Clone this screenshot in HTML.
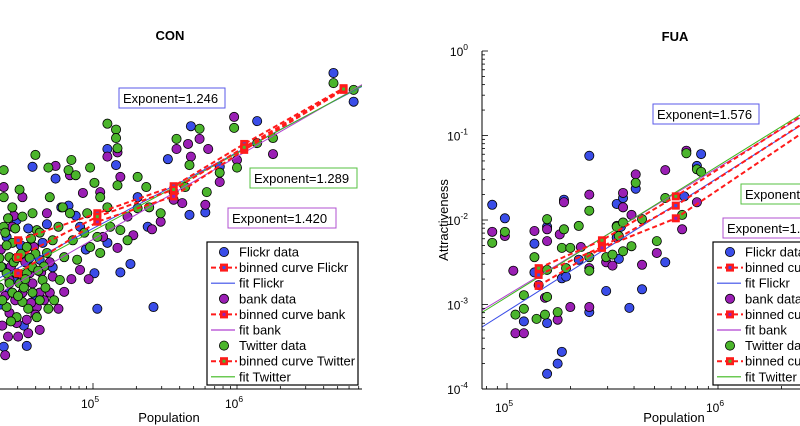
<!DOCTYPE html>
<html><head><meta charset="utf-8">
<style>
html,body{margin:0;padding:0;background:#fff;width:800px;height:426px;overflow:hidden}
svg{display:block;font-family:"Liberation Sans",Arial,sans-serif}
</style></head>
<body>
<svg id="chart" width="800" height="426" viewBox="0 0 800 426" xmlns="http://www.w3.org/2000/svg">
<defs>
<clipPath id="clipL"><rect x="0" y="40" width="362" height="349"/></clipPath>
<clipPath id="clipR"><rect x="482" y="51" width="318" height="338"/></clipPath>
</defs>
<text x="170" y="40" font-size="13" font-weight="bold" text-anchor="middle">CON</text>
<text x="675" y="41" font-size="13" font-weight="bold" text-anchor="middle">FUA</text>
<text x="169" y="422" font-size="13" text-anchor="middle">Population</text>
<text x="674" y="422" font-size="13" text-anchor="middle">Population</text>
<text transform="translate(448,220) rotate(-90)" font-size="13" text-anchor="middle">Attractiveness</text>
<g id="gL" clip-path="url(#clipL)"></g>
<g id="gR" clip-path="url(#clipR)"></g>
<g id="axes"></g>
<g id="ann"></g>
</svg>
<script>
// values are log10(population), log10(attractiveness)
const conFlickr=[[6.67,-0.26],[6.81,-0.60],[6.14,-0.83],[5.68,-0.89],[5.10,-1.16],[5.52,-1.28],[5.16,-1.35],[5.88,-1.37],[5.67,-1.94],[5.78,-1.91],[5.26,-2.52],[5.19,-2.62],[5.03,-3.05],[5.42,-3.03],[4.54,-3.49],[4.74,-1.51],[4.58,-1.37],[4.83,-1.83],[5.31,-1.73],[5.10,-2.27],[5.01,-2.63],[4.78,-1.85],[4.47,-2.00],[4.38,-3.50],[5.38,-2.08],[4.91,-2.08],[4.65,-2.27],[4.72,-2.56],[4.42,-2.86],[4.63,-2.47],[4.37,-2.56],[4.50,-2.30],[4.45,-2.70],[4.60,-2.95],[4.88,-1.95],[4.40,-2.20],[4.55,-2.10],[4.36,-3.00],[4.52,-3.25],[4.68,-2.05],[4.95,-2.35]];
const conBank=[[5.98,-0.78],[5.74,-1.04],[5.66,-1.10],[5.80,-1.16],[6.25,-1.22],[6.00,-1.29],[5.58,-1.16],[5.68,-1.25],[5.88,-1.55],[5.78,-1.82],[5.62,-1.80],[5.56,-1.76],[5.47,-2.02],[5.41,-2.11],[5.10,-1.25],[5.17,-1.20],[5.19,-1.49],[4.84,-1.47],[4.74,-1.36],[4.93,-1.68],[5.05,-1.67],[5.17,-2.33],[5.07,-2.20],[4.97,-2.70],[4.72,-2.67],[4.85,-2.70],[4.76,-3.05],[4.63,-3.30],[4.55,-3.34],[4.41,-3.38],[4.39,-3.60],[4.48,-3.38],[4.61,-3.03],[4.51,-2.86],[4.63,-2.86],[4.42,-3.10],[4.59,-2.32],[4.68,-1.92],[4.44,-2.08],[4.51,-1.73],[5.24,-1.96],[5.28,-2.18],[4.91,-2.59],[4.38,-1.61],[4.49,-2.44],[4.56,-2.63],[4.70,-2.86],[4.54,-3.18],[4.42,-2.71],[4.46,-2.95],[4.58,-2.75],[4.36,-2.35],[4.43,-2.55],[4.50,-2.65],[4.57,-2.98],[4.64,-2.62],[4.39,-2.90],[4.47,-3.22],[4.66,-2.95],[4.53,-2.50],[4.60,-3.12],[4.37,-3.25],[4.70,-2.50],[4.80,-2.85],[4.45,-1.95]];
const conTwitter=[[6.67,-0.38],[6.81,-0.46],[5.98,-0.91],[5.74,-0.92],[6.25,-1.03],[6.00,-1.38],[6.14,-1.09],[5.88,-1.44],[5.79,-1.67],[5.58,-1.04],[5.67,-1.35],[5.64,-1.61],[5.56,-1.67],[5.10,-0.86],[5.16,-0.93],[5.16,-1.03],[5.17,-1.15],[5.17,-1.59],[5.31,-1.49],[5.37,-1.61],[5.31,-1.86],[5.47,-1.92],[5.39,-1.85],[4.98,-1.38],[5.01,-1.56],[5.05,-1.73],[5.10,-1.85],[4.85,-1.29],[4.83,-1.41],[4.69,-1.38],[4.60,-1.23],[4.88,-1.47],[4.96,-1.92],[5.12,-2.08],[5.24,-2.24],[5.19,-2.12],[5.03,-2.20],[4.84,-1.92],[4.76,-2.08],[4.86,-2.24],[4.80,-2.44],[4.89,-2.47],[4.77,-2.71],[4.65,-2.71],[4.58,-2.86],[4.51,-2.97],[4.61,-3.15],[4.47,-3.15],[4.40,-3.03],[4.49,-2.75],[4.42,-2.44],[4.54,-2.32],[4.61,-2.12],[4.51,-1.96],[4.44,-1.85],[4.49,-1.64],[4.38,-1.73],[4.38,-1.41],[4.70,-1.73],[4.58,-1.92],[4.63,-2.15],[4.68,-2.39],[4.44,-2.27],[4.40,-2.63],[4.47,-2.63],[4.54,-2.63],[4.35,-2.80],[4.44,-2.86],[4.58,-2.56],[4.38,-2.08],[4.72,-2.24],[4.94,-2.15],[4.98,-2.32],[5.05,-2.39],[4.79,-1.85],[4.45,-2.50],[4.52,-2.80],[4.60,-2.40],[4.40,-2.30],[4.66,-2.55],[4.36,-2.55],[4.42,-2.75],[4.48,-2.90],[4.55,-3.05],[4.37,-2.95],[4.50,-2.40],[4.57,-2.22],[4.63,-2.95],[4.43,-3.20],[4.67,-2.80],[4.53,-2.70],[4.47,-2.45],[4.39,-2.15],[4.56,-2.45],[4.73,-2.95],[4.41,-1.98],[4.62,-2.60],[4.35,-2.45],[4.46,-2.10],[4.69,-3.05]];
const conBinX=[4.48,5.03,5.56,6.05,6.74];
const conBinFlickr=[-2.24,-1.92,-1.60,-1.10,-0.44];
const conBinBank=[-2.63,-2.02,-1.72,-1.17,-0.46];
const conBinTwitter=[-2.44,-1.96,-1.64,-1.14,-0.45];
const conFitFlickr=[-1.20,0.90];
const conFitBank=[-1.25,0.98];
const conFitTwitter=[-1.21,0.92];
const fuaFlickr=[[4.93,-1.82],[4.99,-1.98],[5.13,-2.28],[5.13,-2.62],[5.08,-3.20],[5.19,-3.22],[5.19,-3.82],[5.24,-3.70],[5.26,-3.56],[5.19,-2.08],[5.27,-1.76],[5.26,-2.69],[5.28,-2.67],[5.34,-2.47],[5.39,-1.24],[5.39,-3.09],[5.47,-2.84],[5.52,-1.81],[5.55,-1.74],[5.52,-2.21],[5.53,-2.46],[5.58,-3.04],[5.61,-1.63],[5.64,-2.82],[5.75,-2.50],[5.84,-1.72],[5.90,-1.36],[5.92,-1.22],[5.54,-2.08]];
const fuaBank=[[4.93,-2.14],[4.99,-2.19],[5.03,-2.60],[5.04,-3.34],[5.08,-3.34],[5.13,-2.13],[5.19,-2.11],[5.19,-2.25],[5.18,-2.92],[5.15,-2.77],[5.25,-2.17],[5.27,-1.79],[5.24,-3.18],[5.30,-3.03],[5.35,-2.32],[5.39,-1.70],[5.39,-2.57],[5.39,-3.03],[5.47,-2.50],[5.50,-2.54],[5.52,-2.07],[5.55,-1.68],[5.55,-1.85],[5.59,-1.94],[5.61,-1.46],[5.64,-2.53],[5.71,-2.39],[5.75,-1.41],[5.83,-2.11],[5.85,-1.18],[5.90,-1.79]];
const fuaTwitter=[[4.93,-2.27],[4.99,-2.14],[5.04,-3.12],[5.08,-3.05],[5.08,-2.89],[5.13,-2.44],[5.14,-3.17],[5.18,-3.12],[5.19,-1.99],[5.19,-2.59],[5.19,-2.91],[5.24,-3.09],[5.26,-2.33],[5.27,-2.11],[5.28,-2.57],[5.30,-2.33],[5.34,-2.07],[5.39,-2.44],[5.39,-2.60],[5.39,-1.89],[5.47,-2.44],[5.50,-2.41],[5.52,-2.08],[5.53,-2.19],[5.55,-2.03],[5.55,-2.37],[5.59,-2.31],[5.61,-1.56],[5.64,-1.99],[5.71,-2.25],[5.75,-1.74],[5.83,-1.94],[5.85,-1.21],[5.90,-1.40],[5.92,-1.43]];
const fuaBinX=[5.15,5.45,5.80,6.50];
const fuaBinFlickr=[-2.65,-2.32,-1.83,-0.70];
const fuaBinBank=[-2.78,-2.33,-1.98,-0.80];
const fuaBinTwitter=[-2.57,-2.24,-1.72,-0.60];
const fuaFitFlickr=[-3.08,1.58];
const fuaFitBank=[-2.89,1.51];
const fuaFitTwitter=[-2.91,1.55];
const conXTicks=[5,6];
const fuaXTicks=[5,6];
const fuaYTicks=[0,-1,-2,-3,-4];
const legendLabels=["Flickr data","binned curve Flickr","fit Flickr","bank data","binned curve bank","fit bank","Twitter data","binned curve Twitter","fit Twitter"];
const exponentsCON=["Exponent=1.246","Exponent=1.289","Exponent=1.420"];
const exponentsFUA=["Exponent=1.576","Exponent=1.","Exponent=1."];

const NS="http://www.w3.org/2000/svg";
const C={blue:"#3a4de8",purple:"#9a1fb4",green:"#4bb52c",red:"#ff1a1a"};
const xL=v=>93+(v-5)*144;
const xR=v=>507+(v-5)*211;
const yS=v=>389-(v+4)*84.5;
function mk(tag,attrs,parent){const e=document.createElementNS(NS,tag);for(const k in attrs)e.setAttribute(k,attrs[k]);parent.appendChild(e);return e;}
const gL=document.getElementById('gL'),gR=document.getElementById('gR'),ax=document.getElementById('axes'),ann=document.getElementById('ann');

function dots(g,data,xf,col,name){
  data.forEach(p=>{
    const c=mk('circle',{cx:xf(p[0]),cy:yS(p[1]),r:4.6,fill:col,stroke:'#000','stroke-width':0.8},g);
    
    
  });
}
function fit(g,f,xf,x0,x1,col,name){
  const c=(xf===xL?6:5);
  const l=mk('line',{x1:xf(x0),y1:yS(f[0]+f[1]*(x0-c)),x2:xf(x1),y2:yS(f[0]+f[1]*(x1-c)),stroke:col,'stroke-width':1},g);
  
  
}
function binned(g,xs,ys,xf,col,name){
  const pl=mk('polyline',{points:xs.map((x,i)=>xf(x)+','+yS(ys[i])).join(' '),fill:'none',stroke:C.red,'stroke-width':2,'stroke-dasharray':'5,3'},g);
  
  
  xs.forEach((x,i)=>{
    const s=mk('rect',{x:xf(x)-4,y:yS(ys[i])-4,width:8,height:8,fill:C.red},g);
    
    
    mk('rect',{x:xf(x)-1.5,y:yS(ys[i])-1.5,width:3,height:3,fill:col},g);
  });
}
dots(gL,conFlickr,xL,C.blue,'con-flickr-point');
dots(gL,conBank,xL,C.purple,'con-bank-point');
dots(gL,conTwitter,xL,C.green,'con-twitter-point');
fit(gL,conFitFlickr,xL,4.3,6.88,C.blue,'con-fit-flickr');
fit(gL,conFitBank,xL,4.3,6.88,'#b040d0','con-fit-bank');
fit(gL,conFitTwitter,xL,4.3,6.88,'#3cb81c','con-fit-twitter');
binned(gL,conBinX,conBinFlickr,xL,C.blue,'con-binned-flickr');
binned(gL,conBinX,conBinBank,xL,C.purple,'con-binned-bank');
binned(gL,conBinX,conBinTwitter,xL,C.green,'con-binned-twitter');
dots(gR,fuaFlickr,xR,C.blue,'fua-flickr-point');
dots(gR,fuaBank,xR,C.purple,'fua-bank-point');
dots(gR,fuaTwitter,xR,C.green,'fua-twitter-point');
fit(gR,fuaFitFlickr,xR,4.85,6.6,C.blue,'fua-fit-flickr');
fit(gR,fuaFitBank,xR,4.85,6.6,'#b040d0','fua-fit-bank');
fit(gR,fuaFitTwitter,xR,4.85,6.6,'#3cb81c','fua-fit-twitter');
binned(gR,fuaBinX,fuaBinFlickr,xR,C.blue,'fua-binned-flickr');
binned(gR,fuaBinX,fuaBinBank,xR,C.purple,'fua-binned-bank');
binned(gR,fuaBinX,fuaBinTwitter,xR,C.green,'fua-binned-twitter');

function sup(x,y,base,exp,name,anchor){
  const t=mk('text',{x:x,y:y,'font-size':12,'text-anchor':anchor||'middle'},ax);
  
  
  t.textContent=base;
  const s=mk('tspan',{dy:-6,'font-size':8.5},t);s.textContent=exp;
}
let a=mk('line',{x1:0,y1:389,x2:362,y2:389,stroke:'#000','stroke-width':1},ax);

for(let d=4;d<=6;d++)for(let m=1;m<=9;m++){const v=d+Math.log10(m);const px=xL(v);if(px<0||px>362)continue;mk('line',{x1:px,y1:389,x2:px,y2:m==1?383:386,stroke:'#000','stroke-width':0.8},ax);}
conXTicks.forEach(v=>sup(xL(v)-3,408,'10',String(v),'con-x-tick-label'));
a=mk('line',{x1:482,y1:389,x2:800,y2:389,stroke:'#000','stroke-width':1},ax);

a=mk('line',{x1:482,y1:51,x2:482,y2:389,stroke:'#000','stroke-width':1},ax);

for(let d=4;d<=6;d++)for(let m=1;m<=9;m++){const v=d+Math.log10(m);const px=xR(v);if(px<482||px>800)continue;mk('line',{x1:px,y1:389,x2:px,y2:m==1?383:386,stroke:'#000','stroke-width':0.8},ax);}
for(let d=-4;d<0;d++)for(let m=1;m<=9;m++){const py=yS(d+Math.log10(m));mk('line',{x1:482,y1:py,x2:m==1?488:485,y2:py,stroke:'#000','stroke-width':0.8},ax);}
mk('line',{x1:482,y1:51,x2:488,y2:51,stroke:'#000','stroke-width':0.8},ax);
fuaXTicks.forEach(v=>sup(xR(v)-3,412,'10',String(v),'fua-x-tick-label'));
fuaYTicks.forEach(v=>sup(468,yS(v)+5,'10',String(v),'fua-y-tick-label','end'));

function legend(x,y,w,h,name){
  const g=mk('g',{},ann);
  
  
  mk('rect',{x:x,y:y,width:w,height:h,fill:'#fff',stroke:'#000','stroke-width':1.2},g);
  const cols=[C.blue,C.blue,C.blue,C.purple,C.purple,'#b040d0',C.green,C.green,'#3cb81c'];
  legendLabels.forEach((lab,i)=>{
    const yy=y+10+i*15.6;const t=i%3;
    const e=mk('g',{},g);
    
    
    if(t==0)mk('circle',{cx:x+17,cy:yy,r:4.6,fill:cols[i],stroke:'#000','stroke-width':0.8},e);
    if(t==1){mk('line',{x1:x+4,y1:yy,x2:x+30,y2:yy,stroke:C.red,'stroke-width':2,'stroke-dasharray':'5,3'},e);mk('rect',{x:x+13,y:yy-4,width:8,height:8,fill:C.red},e);mk('rect',{x:x+15.5,y:yy-1.5,width:3,height:3,fill:cols[i]},e);}
    if(t==2)mk('line',{x1:x+4,y1:yy,x2:x+28,y2:yy,stroke:cols[i],'stroke-width':1.2},e);
    const tx=mk('text',{x:x+32,y:yy+4.5,'font-size':13},e);tx.textContent=lab;
  });
}
legend(207,242,151,143,'con-legend');
legend(713,242,151,143,'fua-legend');
function box(x,y,w,col,txt,name){
  const g=mk('g',{},ann);
  
  
  mk('rect',{x:x,y:y,width:w,height:20,fill:'#fff',stroke:col,'stroke-width':1},g);
  const t=mk('text',{x:x+4,y:y+15,'font-size':13},g);t.textContent=txt;
}
box(119,88,106,'#5a5ae8',exponentsCON[0],'con-exponent-flickr');
box(250,168,107,'#55c040',exponentsCON[1],'con-exponent-twitter');
box(228,208,108,'#b050d0',exponentsCON[2],'con-exponent-bank');
box(653,104,106,'#5a5ae8',exponentsFUA[0],'fua-exponent-flickr');
box(741,184,110,'#55c040',exponentsFUA[1].replace('1.','nt=1.'),'fua-exponent-twitter');
box(723,218,110,'#b050d0',exponentsFUA[2],'fua-exponent-bank');
</script>
</body></html>
